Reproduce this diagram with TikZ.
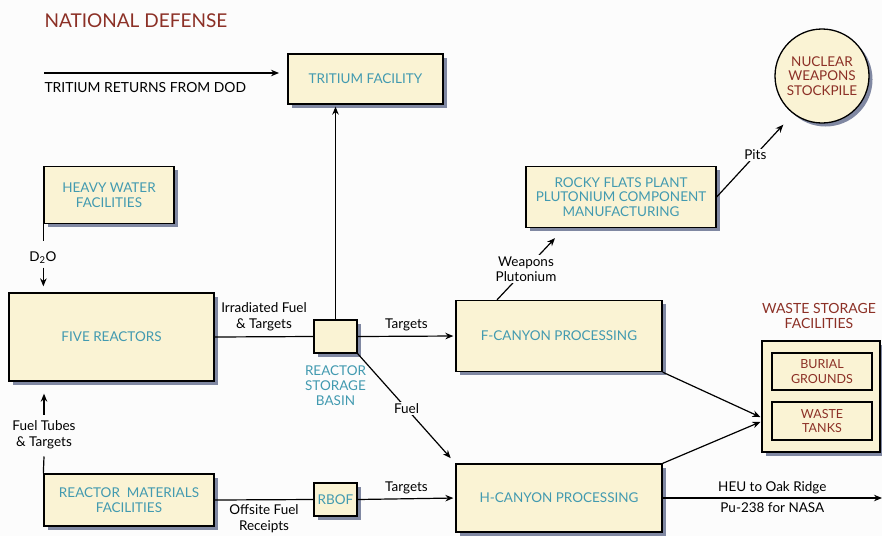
\documentclass[tikz,border=0pt]{standalone}
\usepackage{tikz}
\usepackage{xcolor}
\usepackage{fontspec}
\setmainfont{Lato}
\usetikzlibrary{arrows, arrows.meta, positioning, calc, shadows}
\definecolor{boxfill}{RGB}{250,243,212}
\definecolor{tealtext}{RGB}{66,154,176}
\definecolor{redtext}{RGB}{140,48,38}
\definecolor{shadowcolor}{RGB}{128,136,162}
\definecolor{paper}{RGB}{252,252,252}

\tikzset{
    facility/.style={draw, line width=1.3pt, fill=boxfill, text=tealtext, align=center,
        font=\fontsize{13.5}{14.5}\selectfont, inner sep=2pt,
        drop shadow={shadow xshift=3.5pt, shadow yshift=-3.5pt, fill=shadowcolor, opacity=1}},
    wastebox/.style={draw, line width=1.6pt, fill=boxfill, text=redtext, align=center,
        font=\fontsize{12.5}{14.5}\selectfont, minimum width=100, inner sep=1pt},
    flow/.style={line width=1.2pt},
    flowarrow/.style={flow, -{Stealth[length=8pt, width=6.5pt]}},
    flowlabel/.style={font=\fontsize{13.5}{15.5}\selectfont, align=center, text=black}
}

\begin{document}
\begin{tikzpicture}[x=1pt, y=-1pt]
    \useasboundingbox (0,0) rectangle (882,536);
    \fill[paper] (0,0) rectangle (882,536);

    % title
    \node[anchor=west, text=redtext, font=\fontsize{19}{21}\selectfont] (title) at (41,21) {NATIONAL DEFENSE};

    % facilities
    \node[facility, minimum width=155, minimum height=50] (tritium) at (365.5,79) {TRITIUM FACILITY};
    \node[facility, minimum width=130, minimum height=57] (heavywater) at (109,195) {HEAVY WATER\\FACILITIES};
    \node[facility, minimum width=205, minimum height=88] (reactors) at (111.5,337) {FIVE REACTORS};
    \node[facility, minimum width=43, minimum height=33] (basin) at (335.5,336.5) {};
    \node[below=12pt of basin, text=tealtext, align=center, font=\fontsize{13.5}{15}\selectfont, inner sep=0pt] (basinlabel) {REACTOR\\STORAGE\\BASIN};
    \node[facility, minimum width=206, minimum height=71] (fcanyon) at (559,336) {F-CANYON PROCESSING};
    \node[facility, minimum width=190, minimum height=61] (rocky) at (621,197) {ROCKY FLATS PLANT\\PLUTONIUM COMPONENT\\MANUFACTURING};
    \node[facility, circle, minimum size=94, text=redtext, inner sep=0pt, font=\fontsize{13.5}{14.5}\selectfont] (stockpile) at (822,76) {NUCLEAR\\WEAPONS\\STOCKPILE};
    \node[facility, minimum width=206, minimum height=68] (hcanyon) at (559,498) {H-CANYON PROCESSING};
    \node[facility, minimum width=170, minimum height=52] (materials) at (129,500) {REACTOR~~MATERIALS\\FACILITIES};
    \node[facility, minimum width=43, minimum height=33] (rbof) at (335.5,499.5) {RBOF};

    % waste storage
    \node[text=redtext, align=center, font=\fontsize{14}{14.5}\selectfont] (wastelabel) at (819,316) {WASTE STORAGE\\FACILITIES};
    \node[facility, minimum width=118, minimum height=111] (waste) at (821,396.5) {};
    \node[wastebox, minimum height=37] (burial) at (822,371.5) {BURIAL\\GROUNDS};
    \node[wastebox, minimum height=38] (tanks) at (822,421) {WASTE\\TANKS};

    % inputs
    \coordinate (dod) at (44,73);
    \coordinate (dodend) at (279,73);
    \draw[flowarrow] (dod) -- (dodend);
    \node[anchor=west, font=\fontsize{13.9}{15}\selectfont] (dodlabel) at (41,88) {TRITIUM RETURNS FROM DOD};

    \node[flowlabel] (d2o) at (43,258) {D\textsubscript{2}O};
    \draw[flow] (heavywater.south west) -- ([yshift=8pt]d2o.north -| heavywater.south west);
    \draw[flowarrow, shorten >=6pt] (d2o.south -| heavywater.south west) -- (reactors.north -| heavywater.south west);

    \node[flowlabel] (fueltubes) at (44,435) {Fuel Tubes\\\& Targets};
    \draw[flow] (materials.north west) -- ([yshift=-4pt]fueltubes.south);
    \draw[flowarrow, shorten >=12pt] ([yshift=3pt]fueltubes.north) -- (reactors.south -| fueltubes);

    % reactor flows
    \draw[flow] (reactors.east) -- node[flowlabel, above=2pt] {Irradiated Fuel\\\& Targets} (basin.west);
    \draw[flowarrow, shorten >=2pt] (basin.north) -- (basin.north |- tritium.south);
    \draw[flowarrow, shorten >=2pt] (basin.east) -- node[flowlabel, above=1pt] {Targets} (fcanyon.west);
    \draw[flowarrow, shorten >=7pt] (basin.south east) -- node[flowlabel, fill=paper, inner sep=1pt] {Fuel} (hcanyon.north west);

    \draw[flow] (materials.east) -- node[flowlabel, below=1pt] {Offsite Fuel\\Receipts} (rbof.west);
    \draw[flowarrow, shorten >=2pt] (rbof.east) -- node[flowlabel, above=1pt] {Targets} (hcanyon.west);

    % products
    \draw[flowarrow] ([xshift=-62pt]fcanyon.north) -- node[flowlabel, fill=paper, inner sep=1pt] {Weapons\\Plutonium} ([xshift=-66pt, yshift=-10pt]rocky.south);
    \draw[flowarrow] (rocky.east) -- node[flowlabel, fill=paper, inner sep=1pt, pos=0.58] {Pits} ([xshift=-5pt, yshift=-15pt]stockpile.south west);

    \draw[flowarrow, shorten >=1pt] (fcanyon.south east) -- ([yshift=-21pt]waste.west);
    \draw[flowarrow, shorten >=1pt] (hcanyon.north east) -- ([yshift=-25pt]waste.west);

    \coordinate (oakridge) at (882,498);
    \draw[flowarrow] (hcanyon.east) -- node[flowlabel, above=0pt] {HEU to Oak Ridge} node[flowlabel, below=1pt] {Pu-238 for NASA} (oakridge);
\end{tikzpicture}
\end{document}
